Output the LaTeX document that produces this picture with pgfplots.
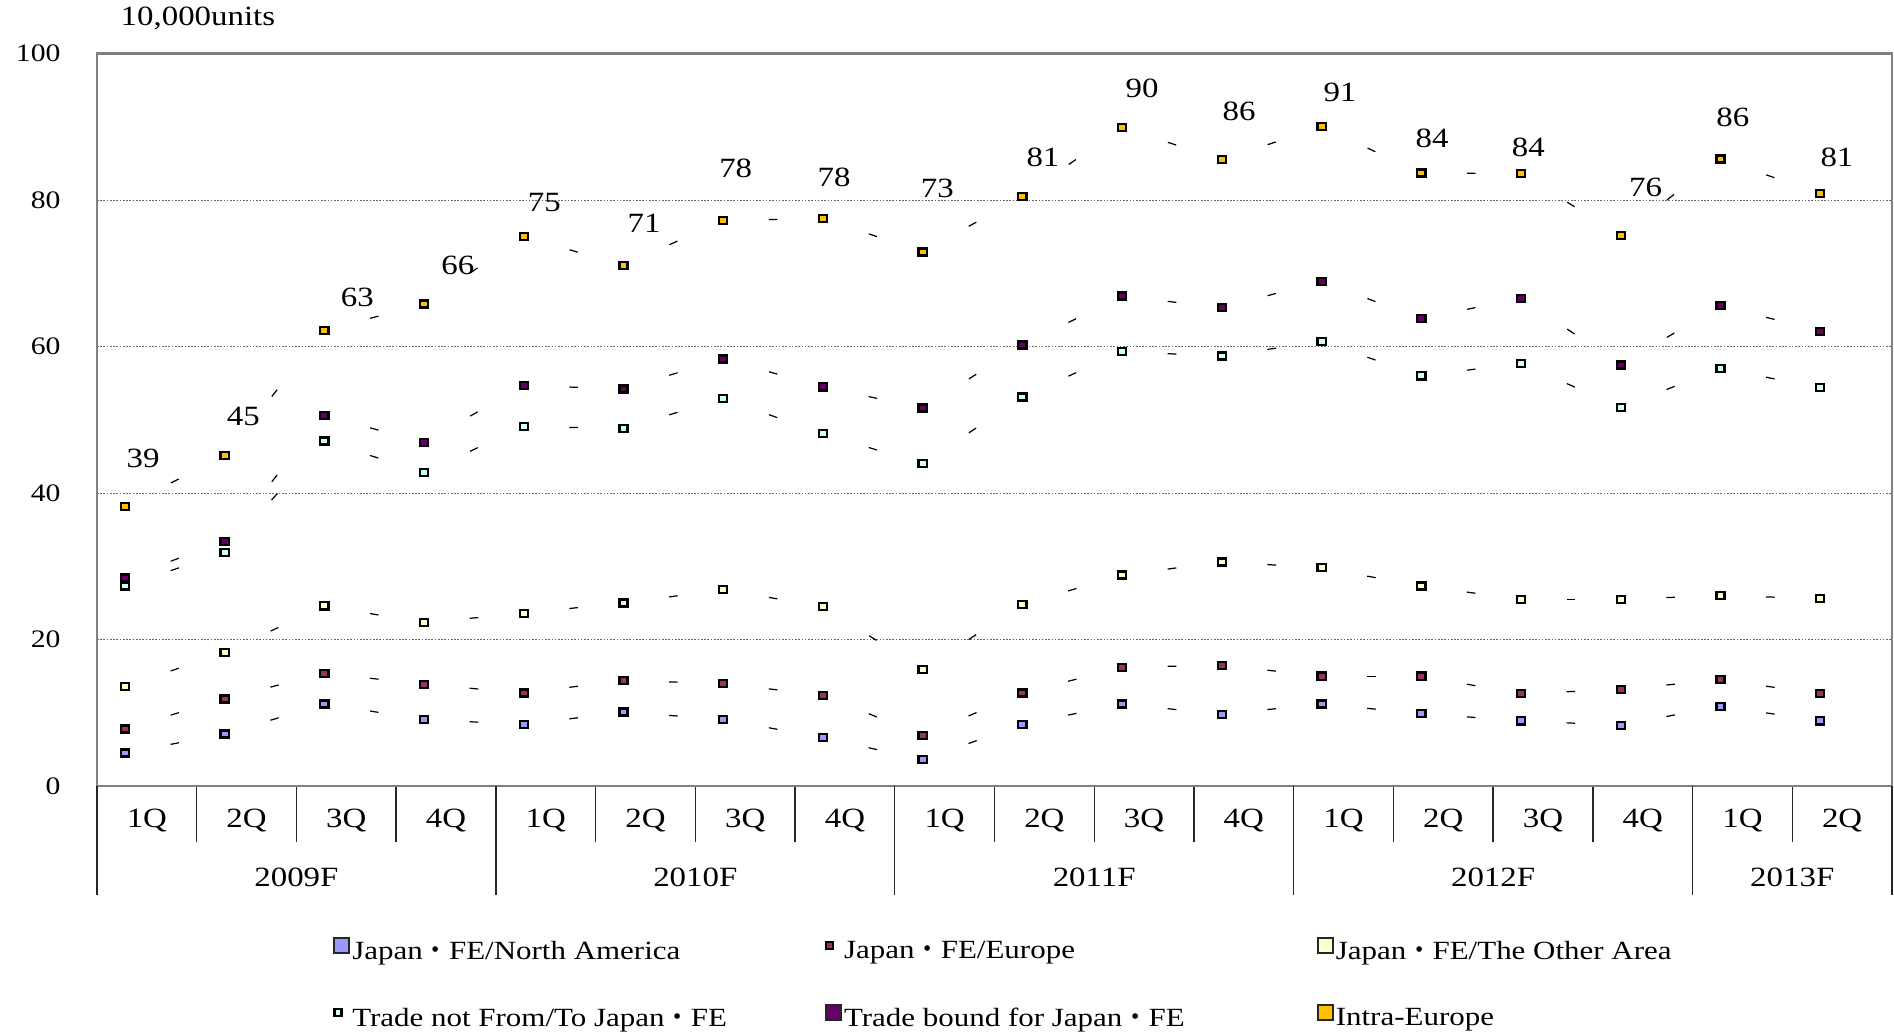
\documentclass[border=0pt]{standalone}
\usepackage{fontspec}
\setmainfont{Liberation Serif}[FakeStretch=1.18]
\newfontfamily\cjk{Noto Sans CJK JP}
\usepackage{pgfplots}
\usepackage{pgfplotstable}
\pgfplotsset{compat=1.18}
\usetikzlibrary{arrows.meta}

\definecolor{cNA}{HTML}{9999FF}
\definecolor{cEU}{HTML}{993366}
\definecolor{cOT}{HTML}{FFFFCC}
\definecolor{cTN}{HTML}{CCFFFF}
\definecolor{cTB}{HTML}{660066}
\definecolor{cIE}{HTML}{FFC000}

\newcommand{\jd}{{\cjk ・}}

% quarterly values, 10,000 units; lab = printed total, lx/ly = label offset (pt)
\pgfplotstableread{
x  NA   EU   OT   TN   TB   IE   lab lx   ly
0  4.5  7.8  13.6 27.3 28.4 38.2 39  6.7  17.7
1  7.1  11.9 18.2 31.9 33.4 45.1 45  6.9  14.5
2  11.2 15.4 24.6 47.1 50.6 62.2 63  12.2 12.3
3  9.1  13.9 22.3 42.8 46.9 65.8 66  12.5 14.2
4  8.4  12.7 23.6 49.1 54.7 75.0 75  7.6  12.6
5  10.1 14.4 25.0 48.8 54.2 71.1 71  7.6  15.6
6  9.1  14.0 26.8 52.9 58.3 77.2 78  4.6  19.3
7  6.6  12.4 24.5 48.1 54.5 77.5 78  4.1  15.1
8  3.6  6.9  15.9 44.0 51.6 72.9 73  5.4  23.4
9  8.4  12.7 24.8 53.1 60.2 80.5 81  7.6  14.6
10 11.2 16.2 28.8 59.3 66.9 89.9 90  7.4  14.6
11 9.8  16.5 30.6 58.7 65.3 85.5 86  6.4  17.8
12 11.2 15.0 29.8 60.7 68.9 90.0 91  6.8  12.8
13 9.9  15.0 27.3 56.0 63.8 83.7 84  4.0  12.8
14 8.9  12.6 25.5 57.7 66.6 83.6 84  2.7  9.8
15 8.3  13.2 25.5 51.7 57.5 75.2 76  9.2  17.6
16 10.9 14.5 26.0 57.0 65.6 85.6 86  4.6  15.5
17 8.9  12.6 25.6 54.4 62.1 80.9 81  6.2  13.5
}\data
\pgfplotstablecreatecol[create col/expr={\nextrow{NA}-\thisrow{NA}}]{dNA}\data
\pgfplotstablecreatecol[create col/expr={\nextrow{EU}-\thisrow{EU}}]{dEU}\data
\pgfplotstablecreatecol[create col/expr={\nextrow{OT}-\thisrow{OT}}]{dOT}\data
\pgfplotstablecreatecol[create col/expr={\nextrow{TN}-\thisrow{TN}}]{dTN}\data
\pgfplotstablecreatecol[create col/expr={\nextrow{TB}-\thisrow{TB}}]{dTB}\data
\pgfplotstablecreatecol[create col/expr={\nextrow{IE}-\thisrow{IE}}]{dIE}\data

\pgfplotsset{
  % short dash halfway between two neighbouring points
  midtick/.style={black, forget plot, restrict x to domain=0:16,
    quiver={u=1, v=\thisrow{#1}, scale arrows=0.5,
      every arrow/.append style={line width=0.4pt,
        dash pattern=on 0pt off 1000pt, shorten >=-1.6pt,
        -{Rectangle[length=3.2pt, width=0.45pt 0, line width=0pt]}}}},
  mk/.style={only marks, mark=square*, mark size=1.3pt,
    mark options={draw=black, line width=0.85pt, fill=#1, xscale=1.16, solid}},
  bigkey/.style={legend image code/.code={
    \path[draw=none, fill=none] (0pt,0pt) rectangle (7pt,1pt);
    \draw[draw=black!85, line width=0.7pt, fill=#1] (0.3pt,-0.3pt) rectangle (5.9pt,5.3pt);}},
  smallkey/.style={legend image code/.code={
    \path[draw=none, fill=none] (0pt,0pt) rectangle (7pt,1pt);
    \draw[draw=black, line width=0.8pt, fill=#1] (0.4pt,1.2pt) rectangle (3.0pt,3.6pt);}},
}

\begin{document}
\begin{tikzpicture}
\begin{axis}[
  name=ax, at={(0,0)}, anchor=south west,
  scale only axis, width=663.4pt, height=270.7pt,
  xmin=-0.28, xmax=17.72, ymin=0, ymax=100,
  /pgf/number format/assume math mode=true,
  ytick={0,20,...,100},
  ymajorgrids,
  grid style={black!60, line width=0.4pt, dash pattern=on 0.6pt off 0.6pt},
  xtick={0.22,1.22,...,17.22},
  xticklabels={1Q,2Q,3Q,4Q,1Q,2Q,3Q,4Q,1Q,2Q,3Q,4Q,1Q,2Q,3Q,4Q,1Q,2Q},
  major tick length=0pt,
  minor xtick={-0.28,0.72,...,17.72},
  minor tick length=20.7pt,
  tick align=outside, xtick pos=bottom, ytick pos=left,
  extra x ticks={-0.28,3.72,7.72,11.72,15.72,17.72},
  extra x tick labels={},
  extra x tick style={major tick length=40.3pt, tick align=outside},
  tick style={black!85, line width=0.5pt},
  axis line style={draw=black!50, line width=0.9pt},
  xticklabel style={font=\fontsize{10.3}{12}\selectfont, anchor=center, yshift=-12.9pt},
  yticklabel style={font=\fontsize{9.3}{11}\selectfont, anchor=east, inner sep=0pt, xshift=-13.3pt},
  legend columns=3,
  legend cell align=left,
  legend style={at={(axis description cs:0,0)}, anchor=north west,
    xshift=87.3pt, yshift=-55.7pt, draw=none, fill=none,
    inner sep=0pt, outer sep=0pt,
    font=\fontsize{9.7}{12}\selectfont,
    nodes={inner sep=0pt},
    /tikz/column sep=0pt, /tikz/row sep=15.0pt},
]
\addplot[midtick=dNA] table[x=x, y=NA]{\data};
\addplot[midtick=dEU] table[x=x, y=EU]{\data};
\addplot[midtick=dOT] table[x=x, y=OT]{\data};
\addplot[midtick=dTN] table[x=x, y=TN]{\data};
\addplot[midtick=dTB] table[x=x, y=TB]{\data};
\addplot[midtick=dIE] table[x=x, y=IE]{\data};

\addplot[mk=cNA, bigkey=cNA] table[x=x, y=NA]{\data};
\addlegendentry{\makebox[174.7pt][l]{Japan\jd FE/North America}}
\addplot[mk=cEU, smallkey=cEU] table[x=x, y=EU]{\data};
\addlegendentry{\makebox[174.7pt][l]{Japan\jd FE/Europe}}
\addplot[mk=cOT, bigkey=cOT] table[x=x, y=OT]{\data};
\addlegendentry{Japan\jd FE/The Other Area}
\addplot[mk=cTN, smallkey=cTN] table[x=x, y=TN]{\data};
\addlegendentry{\makebox[174.7pt][l]{Trade not From/To Japan\jd FE}}
\addplot[mk=cTB, bigkey=cTB] table[x=x, y=TB]{\data};
\addlegendentry{\makebox[174.7pt][l]{Trade bound for Japan\jd FE}}
\addplot[mk=cIE, bigkey=cIE,
  nodes near coords, point meta=explicit symbolic,
  visualization depends on={\thisrow{lx} \as \lx},
  visualization depends on={\thisrow{ly} \as \ly},
  every node near coord/.append style={anchor=center, xshift=\lx pt, yshift=\ly pt,
    font=\fontsize{10.3}{12}\selectfont, text=black, inner sep=0pt}]
  table[x=x, y=IE, meta=lab]{\data};
\addlegendentry{Intra-Europe}
\end{axis}
\node[font=\fontsize{10.3}{12}\selectfont] at ([xshift=37.3pt, yshift=13.1pt]ax.north west) {10,000units};
\begin{scope}[every node/.style={font=\fontsize{10.3}{12}\selectfont, yshift=-33.6pt}]
\path (ax.south west) -- (ax.south east)
  node[pos=2/18] {2009F}
  node[pos=6/18] {2010F}
  node[pos=10/18] {2011F}
  node[pos=14/18] {2012F}
  node[pos=17/18] {2013F};
\end{scope}
\pgfresetboundingbox
\path[use as bounding box] ([xshift=-35.85pt, yshift=-90.9pt]ax.south west) rectangle ++(700pt,381.4pt);
\end{tikzpicture}
\end{document}
